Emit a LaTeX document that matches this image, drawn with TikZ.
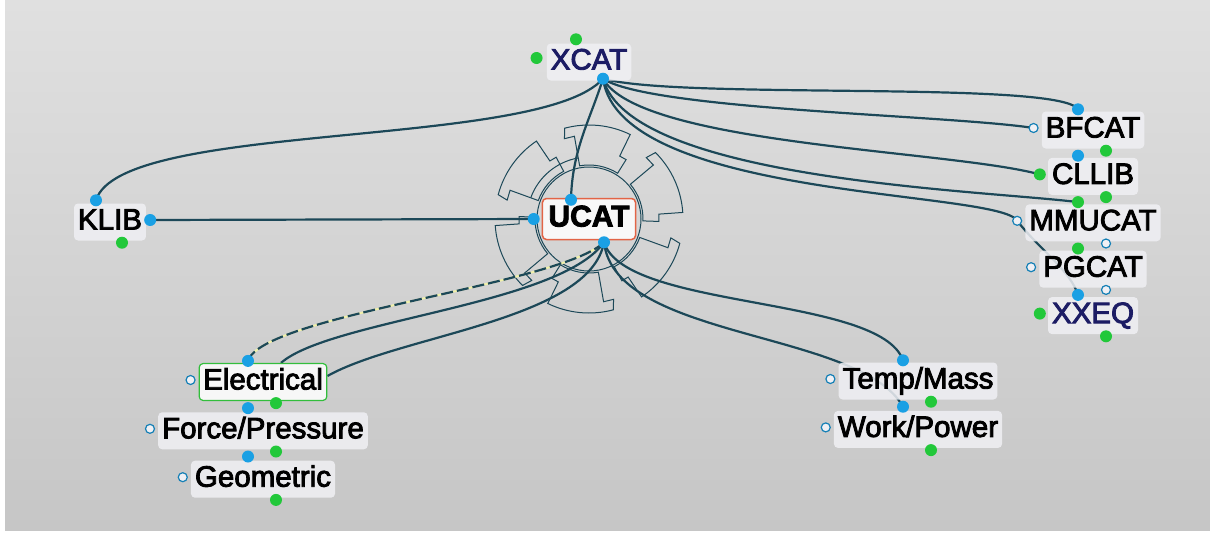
\documentclass[tikz,border=0pt]{standalone}
\usepackage{fontspec}
\setmainfont{Liberation Sans}
\newfontfamily\labelfont{Liberation Sans}[FakeBold=3]
\usetikzlibrary{positioning}
\definecolor{linkteal}{RGB}{28,72,88}
\definecolor{portblue}{RGB}{26,160,228}
\definecolor{portgreen}{RGB}{34,200,58}
\definecolor{catnavy}{RGB}{28,28,100}
\definecolor{boxfill}{RGB}{240,240,244}
\definecolor{ucatred}{RGB}{226,100,70}
\definecolor{elecgreen}{RGB}{50,190,60}
\definecolor{bgtop}{RGB}{224,224,224}
\definecolor{bgbottom}{RGB}{198,198,198}
\definecolor{dashyellow}{RGB}{240,240,170}
\pgfdeclarelayer{bg}
\pgfdeclarelayer{links}
\pgfsetlayers{bg,links,main}
\tikzset{
  lib/.style={fill=boxfill, fill opacity=0.85, text opacity=1, rounded corners=4pt,
    inner xsep=4pt, inner ysep=5pt, text height=21pt, text depth=6pt,
    font=\labelfont\fontsize{29.5}{31}\selectfont},
  link/.style={draw=linkteal, line width=2.2pt},
  dashlink/.style={link, dash pattern=on 12pt off 4pt,
    preaction={draw=dashyellow, line width=2pt, solid}},
  gear/.style={draw=linkteal, line width=1pt},
  hollow/.style={draw=portblue!80!black, fill=boxfill, line width=1.2pt}
}

\begin{document}
\begin{tikzpicture}[x=1pt, y=-1pt]
    \useasboundingbox (0,0) rectangle (1210,536);

    % Kataloge
    \node[lib, text=catnavy] (xcat) at (589,62) {XCAT};
    \node[lib, fill=white, draw=ucatred, line width=1.5pt, inner xsep=6pt, inner ysep=7pt,
      font=\labelfont\fontsize{30}{32}\selectfont\bfseries] (ucat) at (589,219) {UCAT};
    \node[lib] (klib) at (110,222) {KLIB};

    % rechte Spalte
    \node[lib] (bfcat) at (1093,130) {BFCAT};
    \node[lib, below=9pt of bfcat] (cllib) {CLLIB};
    \node[lib, below=9pt of cllib] (mmucat) {MMUCAT};
    \node[lib, below=9pt of mmucat] (pgcat) {PGCAT};
    \node[lib, text=catnavy, below=9pt of pgcat] (xxeq) {XXEQ};

    % Einheiten
    \node[lib, fill=white, draw=elecgreen, line width=1.2pt] (elec) at (263,382) {Electrical};
    \node[lib, below=11pt of elec] (forcep) {Force/Pressure};
    \node[lib, below=11pt of forcep] (geom) {Geometric};
    \node[lib] (tempm) at (918,381) {Temp/Mass};
    \node[lib, below=11pt of tempm] (workp) {Work/Power};

    % Anschluesse
    \coordinate (xcat-s) at ([xshift=14pt,yshift=2pt]xcat.south);
    \coordinate (xcat-n) at ([xshift=-13pt,yshift=4pt]xcat.north);
    \coordinate (xcat-w) at ([xshift=-10pt,yshift=4pt]xcat.west);
    \coordinate (ucat-n) at ([xshift=-18pt,yshift=-2pt]ucat.north);
    \coordinate (ucat-w) at ([xshift=-8pt]ucat.west);
    \coordinate (ucat-s) at ([xshift=15pt,yshift=-2pt]ucat.south);
    \coordinate (klib-n) at ([xshift=-14pt,yshift=3pt]klib.north);
    \coordinate (klib-e) at ([xshift=4pt,yshift=2pt]klib.east);
    \coordinate (klib-s) at ([xshift=12pt,yshift=-2pt]klib.south);
    \foreach \n in {bfcat,cllib,mmucat,pgcat,xxeq,elec,forcep,geom,tempm,workp} {
        \coordinate (\n-n) at ([xshift=-15pt,yshift=2pt]\n.north);
        \coordinate (\n-s) at ([xshift=-15pt,yshift=-7pt]\n.south);
        \coordinate (\n-g) at ([xshift=13pt,yshift=-2pt]\n.south);
        \coordinate (\n-w) at ([xshift=-8pt,yshift=2pt]\n.west);
    }

    \begin{pgfonlayer}{bg}
        \fill[white] (0,0) rectangle (1210,536);
        \shade[top color=bgtop, bottom color=bgbottom] (5,0) rectangle (1210,530);
        % Zahnrad um UCAT
        \begin{scope}[shift={(589,219)}]
            \draw[gear] (0,0) circle (52);
            \draw[gear] (200:62) arc[start angle=200, end angle=260, radius=62];
            \foreach \a in {20,80,...,320} {
                \draw[gear] (\a:54) -- (\a:84) -- (\a-7:84) -- (\a-5:94)
                  arc[start angle=\a-5, end angle=\a+36, radius=94]
                  -- (\a+36:70) -- (\a+42:70) -- (\a+42:54)
                  arc[start angle=\a+42, end angle=\a, radius=54] -- cycle;
            }
        \end{scope}
    \end{pgfonlayer}

    \begin{pgfonlayer}{links}
        % XCAT
        \draw[link] (xcat-s) .. controls (540,150) and (120,120) .. (klib-n);
        \draw[link] (xcat-s) .. controls (590,120) and (572,150) .. (ucat-n);
        \draw[link] (xcat-s) .. controls (680,100) and (1060,80) .. (bfcat-n);
        \draw[link] (xcat-s) .. controls (650,110) and (950,115) .. (bfcat-w);
        \draw[link] (xcat-s) .. controls (640,145) and (950,150) .. (cllib-w);
        \draw[link] (xcat-s) .. controls (630,180) and (980,190) .. (cllib-s);
        \draw[link] (xcat-s) .. controls (620,200) and (1000,190) .. (mmucat-w)
          .. controls (1040,250) and (1070,270) .. (pgcat-s);
        % KLIB
        \draw[link] (klib-e) -- (ucat-w);
        % UCAT
        \draw[dashlink] (ucat-s) .. controls (560,285) and (262,315) .. (elec-n);
        \draw[link] (ucat-s) .. controls (560,305) and (330,320) .. ([xshift=18pt]elec.north);
        \draw[link] (ucat-s) .. controls (590,320) and (400,335) .. ([yshift=6pt]elec.east);
        \draw[link] (ucat-s) .. controls (625,310) and (880,295) .. (tempm-n);
        \draw[link] (ucat-s) .. controls (615,340) and (860,330) .. (tempm-s);
    \end{pgfonlayer}

    % Punkte
    \foreach \p in {xcat-s,ucat-n,ucat-w,ucat-s,klib-n,klib-e,bfcat-n,bfcat-s,pgcat-s,elec-n,elec-s,forcep-s,tempm-n,tempm-s}
        \fill[portblue] (\p) circle (6);
    \foreach \p in {xcat-n,xcat-w,klib-s,bfcat-g,cllib-w,cllib-s,cllib-g,mmucat-s,xxeq-w,xxeq-g,elec-g,forcep-g,geom-g,tempm-g,workp-g}
        \fill[portgreen] (\p) circle (6);
    \foreach \p in {bfcat-w,mmucat-w,mmucat-g,pgcat-w,pgcat-g,elec-w,forcep-w,geom-w,tempm-w,workp-w}
        \draw[hollow] (\p) circle (4.5);
\end{tikzpicture}
\end{document}
